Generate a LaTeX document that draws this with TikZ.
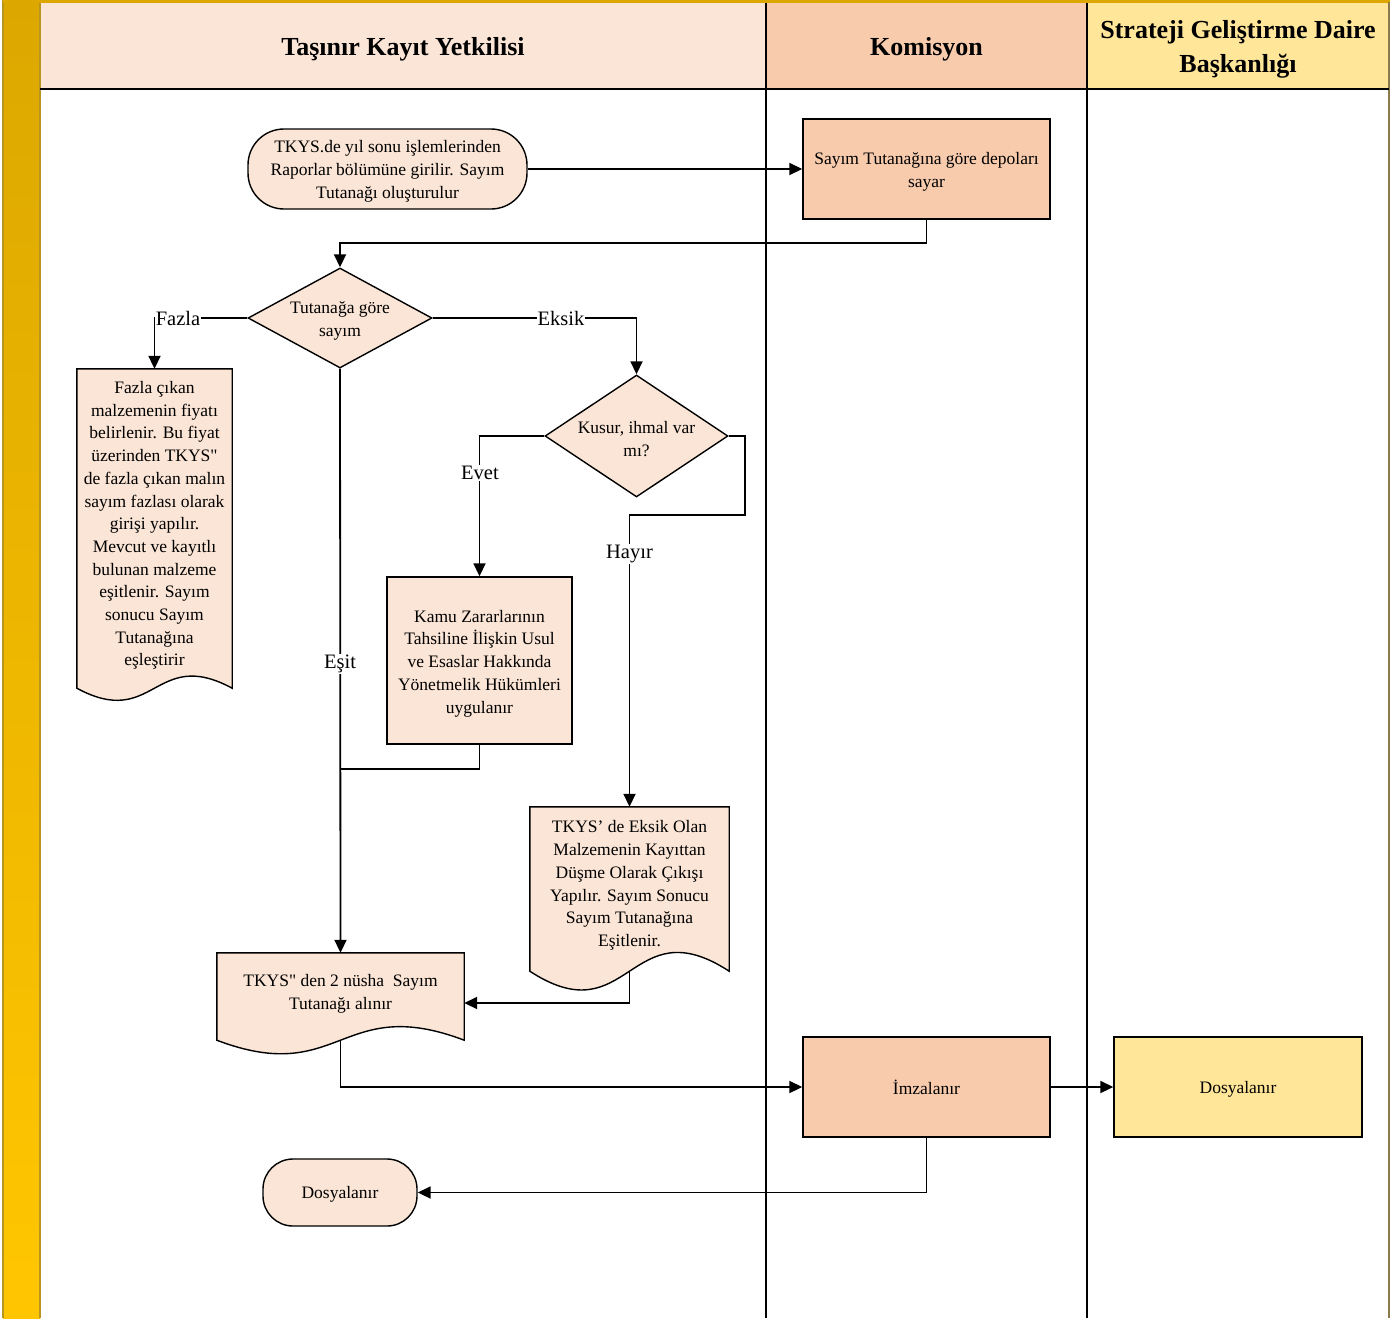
\documentclass[tikz,border=0pt]{standalone}
\usepackage{fontspec}
\setmainfont{Liberation Serif}[Ligatures=TeXOff]
\usetikzlibrary{arrows.meta,shapes.geometric,calc}

\definecolor{peach}{HTML}{FBE5D6}
\definecolor{salmon}{HTML}{F8CBAD}
\definecolor{pale}{HTML}{FFE699}
\definecolor{goldtop}{HTML}{DCA800}
\definecolor{goldbot}{HTML}{FFC600}
\definecolor{goldedge}{HTML}{B8961E}
\definecolor{frameedge}{HTML}{8C7A4A}

\tikzset{
  body/.style={font=\fontsize{17.5}{22.7}\selectfont, align=center, text=black, inner sep=0pt},
  base/.style={draw=black, line width=1.4pt, inner sep=0pt},
  procA/.style={base, rectangle, fill=peach},
  procB/.style={base, rectangle, fill=salmon},
  procC/.style={base, rectangle, fill=pale},
  decision/.style={base, diamond, fill=peach},
  docframe/.style={rectangle, inner sep=0pt},
  docshape/.style={draw=black, line width=1.4pt, fill=peach},
  conn/.style={line width=1.8pt, -{Triangle[length=13pt,width=12pt]}},
  wire/.style={line width=1.8pt},
  lbl/.style={font=\fontsize{20.5}{24}\selectfont, fill=white, inner sep=1pt},
  head/.style={font=\bfseries\fontsize{26}{34}\selectfont, align=center},
}

% document symbol: straight top and sides, S-shaped wavy bottom
\newcommand{\docoutline}[2]{%
  \path[docshape] (#1.north west) -- (#1.north east) -- (#1.south east)
    .. controls ($(#1.south)+(0,-#2)$) and ($(#1.south)+(0,#2)$) .. (#1.south west) -- cycle;}

\begin{document}
\begin{tikzpicture}[x=1pt,y=-1pt]
\useasboundingbox (0,0) rectangle (1400,1318);

% ---- lanes and header ----
\fill[peach] (40,3) rectangle (766,89);
\fill[salmon] (766,3) rectangle (1087,89);
\fill[pale] (1087,3) rectangle (1389,89);
\shade[top color=goldtop, bottom color=goldbot] (3,0) rectangle (40,1318);
\draw[goldedge, line width=1.2pt] (3,0) -- (3,1318);
\draw[goldedge, line width=1.2pt] (40,3) -- (40,1318);
\draw[goldtop, line width=3pt] (3,1.5) -- (1390,1.5);
\draw[frameedge, line width=2pt] (1389,2) -- (1389,1318);
\draw[line width=1.5pt] (40,89) -- (1389,89);
\draw[line width=1.5pt] (766,3) -- (766,1318);
\draw[line width=1.5pt] (1087,3) -- (1087,1318);

\node[head] (h1) at (403,49) {Taşınır Kayıt Yetkilisi};
\node[head] (h2) at (926.5,49) {Komisyon};
\node[head] (h3) at (1238,49) {Strateji Geliştirme Daire\\Başkanlığı};

% ---- flow shapes ----
\node[procA, minimum width=279pt, minimum height=80pt, rounded corners=36pt] (t1) at (387.5,169) {};
\node[body] (t1t) at ($(t1)+(0,2.5)$)
  {TKYS.de yıl sonu işlemlerinden\\Raporlar bölümüne girilir. Sayım\\Tutanağı oluşturulur};

\node[procB, minimum width=247pt, minimum height=100pt] (b1) at (926.5,169) {};
\node[body] (b1t) at ($(b1)+(0,3)$) {Sayım Tutanağına göre depoları\\sayar};

\node[decision, minimum width=184pt, minimum height=100pt] (dia1) at (340,318) {};
\node[body] (dia1t) at ($(dia1)+(0,3)$) {Tutanağa göre\\sayım};

\node[decision, minimum width=183pt, minimum height=122pt] (dia2) at (636.5,436) {};
\node[body] (dia2t) at ($(dia2)+(0,3)$) {Kusur, ihmal var\\mı?};

\node[procA, minimum width=185pt, minimum height=167pt] (kamu) at (479.5,660.5) {};
\node[body] (kamut) at ($(kamu)+(0,3)$)
  {Kamu Zararlarının\\Tahsiline İlişkin Usul\\ve Esaslar Hakkında\\Yönetmelik Hükümleri\\uygulanır};

\node[docframe, minimum width=155pt, minimum height=319pt] (d1) at (154.5,528.5) {};
\docoutline{d1}{42}
\node[body] (d1t) at (154.5,525.5)
  {Fazla çıkan\\malzemenin fiyatı\\belirlenir. Bu fiyat\\üzerinden TKYS"\\de fazla çıkan malın\\sayım fazlası olarak\\girişi yapılır.\\Mevcut ve kayıtlı\\bulunan malzeme\\eşitlenir. Sayım\\sonucu Sayım\\Tutanağına\\eşleştirir};

\node[docframe, minimum width=199pt, minimum height=164pt] (d2) at (629.5,889) {};
\docoutline{d2}{65}
\node[body] (d2t) at (629.5,885.5)
  {TKYS’ de Eksik Olan\\Malzemenin Kayıttan\\Düşme Olarak Çıkışı\\Yapılır. Sayım Sonucu\\Sayım Tutanağına\\Eşitlenir.};

\node[docframe, minimum width=247pt, minimum height=87pt] (d3) at (340.5,996.5) {};
\docoutline{d3}{47}
\node[body] (d3t) at (340.5,994) {TKYS" den 2 nüsha\ \ Sayım\\Tutanağı alınır};

\node[procB, minimum width=247pt, minimum height=100pt] (imz) at (926.5,1087) {};
\node[body] (imzt) at (imz) {İmzalanır};
\node[procC, minimum width=248pt, minimum height=100pt] (dos2) at (1238,1087) {};
\node[body] (dos2t) at ($(dos2)+(0,2)$) {Dosyalanır};
\node[procA, minimum width=154pt, minimum height=67pt, rounded corners=30pt] (t2) at (340,1192.5) {};
\node[body] (t2t) at ($(t2)+(0,1.5)$) {Dosyalanır};

% ---- connectors ----
\coordinate (j1) at (340,243);
\coordinate (h1c) at (745,515);
\coordinate (j2) at (340,769);

\draw[conn] (t1.east) -- (b1.west);
\draw[conn] (b1.south) |- (j1) -- (dia1.north);
\draw[conn] (dia1.west) -| (d1.north);
\draw[conn] (dia1.east) -| (dia2.north);
\draw[conn] (dia2.west) -| (kamu.north);
\draw[conn] (dia2.east) -| (h1c) -| (d2.north);
\draw[wire] (kamu.south) |- (j2);
\draw[conn] (dia1.south) -- (d3.north);
\draw[conn] (d2.south) |- ($(d3.east)+(0,6.5)$);
\draw[conn] (d3.south) |- (imz.west);
\draw[conn] (imz.east) -- (dos2.west);
\draw[conn] (imz.south) |- (t2.east);

% ---- branch labels ----
\node[lbl] (lfazla) at (178,318) {Fazla};
\node[lbl] (leksik) at (561,318) {Eksik};
\node[lbl] (levet) at (480,473) {Evet};
\node[lbl] (lhayir) at (629.5,554) {Hayır};
\node[lbl] (lesit) at (340,664) {Eşit};

\end{tikzpicture}
\end{document}
